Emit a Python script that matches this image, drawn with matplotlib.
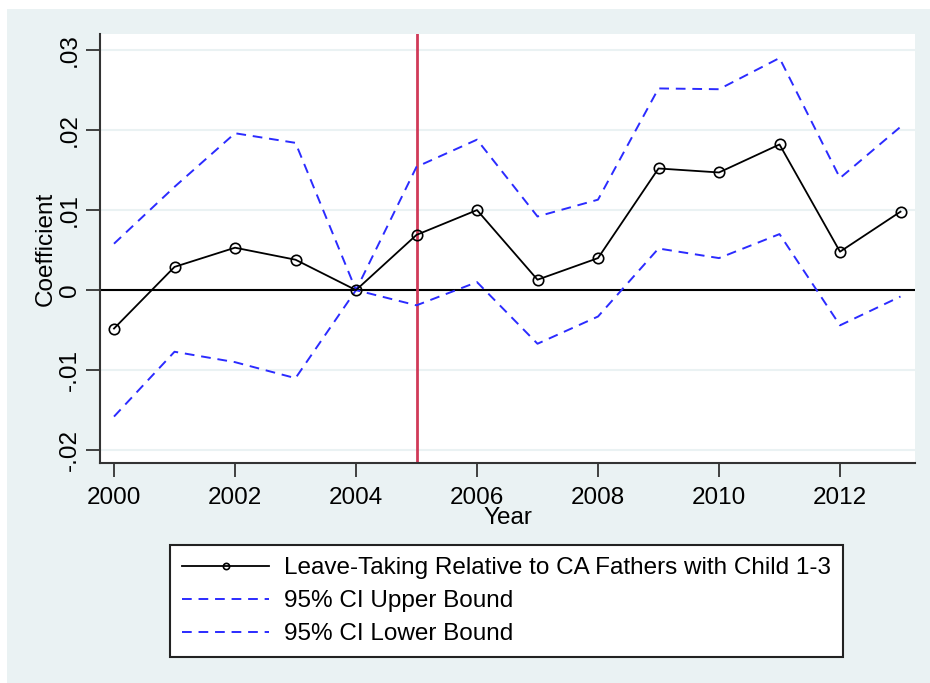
import matplotlib.pyplot as plt
from matplotlib.patches import Rectangle
from matplotlib.ticker import FixedLocator

years = [2000, 2001, 2002, 2003, 2004, 2005, 2006, 2007, 2008, 2009, 2010, 2011, 2012, 2013]
coef = [-0.0048, 0.0029, 0.0053, 0.0038, 0.0, 0.0069, 0.0100, 0.0013, 0.0040,
        0.0152, 0.0147, 0.0182, 0.0048, 0.0098]
ci_upper = [0.0058, 0.0129, 0.0196, 0.0184, 0.0, 0.0154, 0.0188, 0.0092, 0.0113,
            0.0252, 0.0251, 0.0290, 0.0140, 0.0204]
ci_lower = [-0.0158, -0.0077, -0.0090, -0.0110, 0.0, -0.0019, 0.0010, -0.0067, -0.0033,
            0.0052, 0.0040, 0.0070, -0.0044, -0.0008]
policy_year = 2005

xticks = [2000, 2002, 2004, 2006, 2008, 2010, 2012]
yticks = [-0.02, -0.01, 0, 0.01, 0.02, 0.03]
ytick_labels = ["-.02", "-.01", "0", ".01", ".02", ".03"]

labels = ["Leave-Taking Relative to CA Fathers with Child 1-3",
          "95% CI Upper Bound", "95% CI Lower Bound"]

bg = "#EAF2F3"
fs = 17.5

plt.rcParams['font.family'] = ['Liberation Sans', 'DejaVu Sans']

fig = plt.figure(figsize=(9.3, 6.83), dpi=100)
fig.patch.set_facecolor("white")
fig.patches.append(Rectangle((7 / 930, 0), 1 - 7 / 930, 1 - 9 / 683,
                             transform=fig.transFigure, facecolor=bg,
                             edgecolor="none", zorder=-10))

ax = fig.add_axes([100 / 930, 1 - 463 / 683, 815 / 930, 429 / 683])
ax.set_facecolor("white")

# gridlines at y ticks
for yv in yticks:
    ax.axhline(yv, color=bg, lw=1.5, zorder=0)

ax.axhline(0, color="black", lw=1.5, zorder=2)
ax.axvline(policy_year, color="#D03A58", lw=2, zorder=2)

ax.plot(years, coef, color="black", lw=1.3, marker="o", markersize=7.5,
        markerfacecolor="none", markeredgecolor="black", markeredgewidth=1.2,
        label=labels[0], zorder=4)
ax.plot(years, ci_upper, color="#2B2BFF", lw=1.4, dashes=(5, 3.5),
        label=labels[1], zorder=3)
ax.plot(years, ci_lower, color="#2B2BFF", lw=1.4, dashes=(5, 3.5),
        label=labels[2], zorder=3)

ax.set_xlim(2000 - 14 / 60.5, 2000 + 801 / 60.5)
ax.set_ylim(-0.0216, 0.032)

ax.xaxis.set_major_locator(FixedLocator(xticks))
ax.set_xticklabels([str(x) for x in xticks], fontsize=fs)
ax.yaxis.set_major_locator(FixedLocator(yticks))
ax.set_yticklabels(ytick_labels, fontsize=fs, rotation=90, va="center")
ax.tick_params(axis="both", length=10, width=1.3, color="#333333")
ax.tick_params(axis="x", pad=7.5)
ax.tick_params(axis="y", pad=4)

for side in ["top", "right"]:
    ax.spines[side].set_visible(False)
for side in ["left", "bottom"]:
    ax.spines[side].set_color("#333333")
    ax.spines[side].set_linewidth(1.5)

ax.set_xlabel("Year", fontsize=fs, labelpad=-2)
ax.set_ylabel("Coefficient", fontsize=fs, labelpad=1)

leg = ax.legend(loc="upper center", bbox_to_anchor=(506.5 / 930, 1 - 545 / 683),
                bbox_transform=fig.transFigure, borderaxespad=0, fontsize=fs,
                fancybox=False, edgecolor="#222222", framealpha=1,
                handlelength=3.6, handletextpad=0.6, labelspacing=0.45,
                borderpad=0.5, markerscale=0.6)
leg.get_frame().set_linewidth(1.5)

fig.savefig("out.png", dpi=100, facecolor=fig.get_facecolor())
